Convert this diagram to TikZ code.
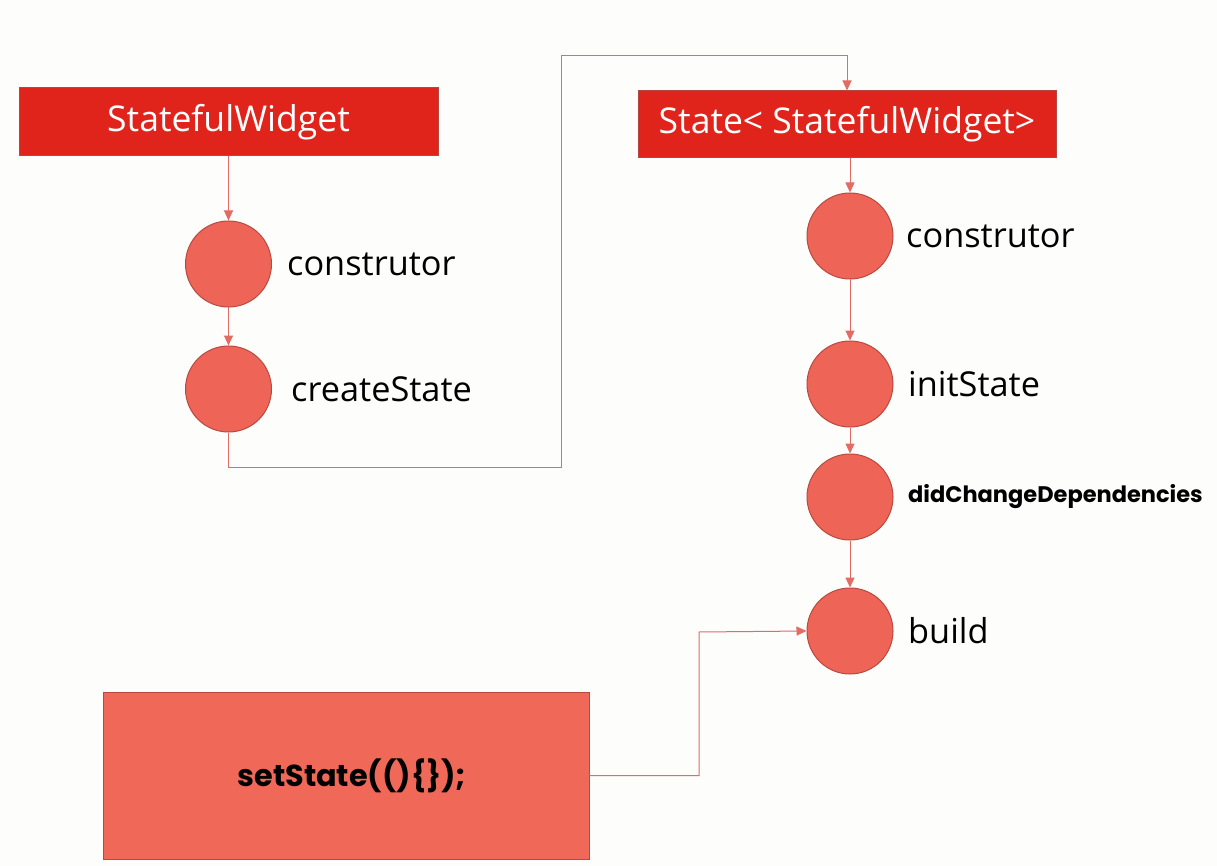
\documentclass[tikz,border=0pt]{standalone}
\usepackage{fontspec}
\setmainfont{Open Sans}
\newfontfamily\boldfam{Poppins}
\usetikzlibrary{arrows.meta}
\definecolor{bgc}{HTML}{FDFDFB}
\definecolor{boxred}{HTML}{E1241B}
\definecolor{boxedge}{HTML}{B5473F}
\definecolor{circfill}{HTML}{EE6558}
\definecolor{circedge}{HTML}{B8493F}
\definecolor{ssfill}{HTML}{EF6858}
\definecolor{linec}{HTML}{E46B63}
\tikzset{
  titlebox/.style={draw=boxedge, line width=1pt, fill=boxred, text=white, inner sep=0pt, font=\fontsize{35.5}{40}\selectfont},
  stepcirc/.style={circle, draw=circedge, line width=1pt, fill=circfill, minimum size=86pt, inner sep=0pt},
  lbl/.style={anchor=base west, inner sep=0pt, font=\fontsize{34.3}{38}\selectfont},
  boldlbl/.style={anchor=base west, inner sep=0pt, font=\boldfam\bfseries\fontsize{22.5}{26}\selectfont},
  ssbox/.style={draw=circedge, line width=1pt, fill=ssfill, inner sep=0pt, font=\boldfam\bfseries\fontsize{30.3}{34}\selectfont},
  arr/.style={draw=linec, line width=1pt, -{Triangle[width=9pt,length=10pt]}}
}
\begin{document}
\begin{tikzpicture}[x=1pt,y=-1pt]
\path[fill=bgc] (0,0) rectangle (1217,866);
\useasboundingbox (0,0) rectangle (1217,866);

% left column
\node[titlebox, minimum width=419pt, minimum height=68pt] (sw) at (228.5,122) {StatefulWidget};
\node[stepcirc] (c1) at (228.5,264) {};
\node[stepcirc] (c2) at (228.5,389) {};
\node[lbl] (l1) at (287,276) {construtor};
\node[lbl] (l2) at (291,401) {createState};

% right column
\node[titlebox, minimum width=418pt, minimum height=67pt] (st) at (847,124.5) {State< StatefulWidget>};
\node[stepcirc] (c3) at (850,236) {};
\node[stepcirc] (c4) at (850,384) {};
\node[stepcirc] (c5) at (850,497) {};
\node[stepcirc] (c6) at (850,631) {};
\node[lbl] (l3) at (906,248) {construtor};
\node[lbl] (l4) at (908,396) {initState};
\node[boldlbl] (l5) at (908,502) {didChangeDependencies};
\node[lbl] (l6) at (908,643) {build};

% setState box
\node[ssbox, minimum width=486pt, minimum height=167pt] (ss) at (346,775.5) {\hspace*{12pt}setState(()\{\});};

% connectors
\draw[arr] (sw.south -| c1.north) -- (c1.north);
\draw[arr] (c1.south) -- (c2.north);
\draw[arr] (c2.south) -- (c2.south |- 0,467) -| (561,56) -| (st.north);
\draw[arr] (st.south -| c3.north) -- (c3.north);
\draw[arr] (c3.south) -- (c4.north);
\draw[arr] (c4.south) -- (c5.north);
\draw[arr] (c5.south) -- (c6.north);
\draw[arr] (ss.east) -| (699,632) -- (c6.west);
\end{tikzpicture}
\end{document}
